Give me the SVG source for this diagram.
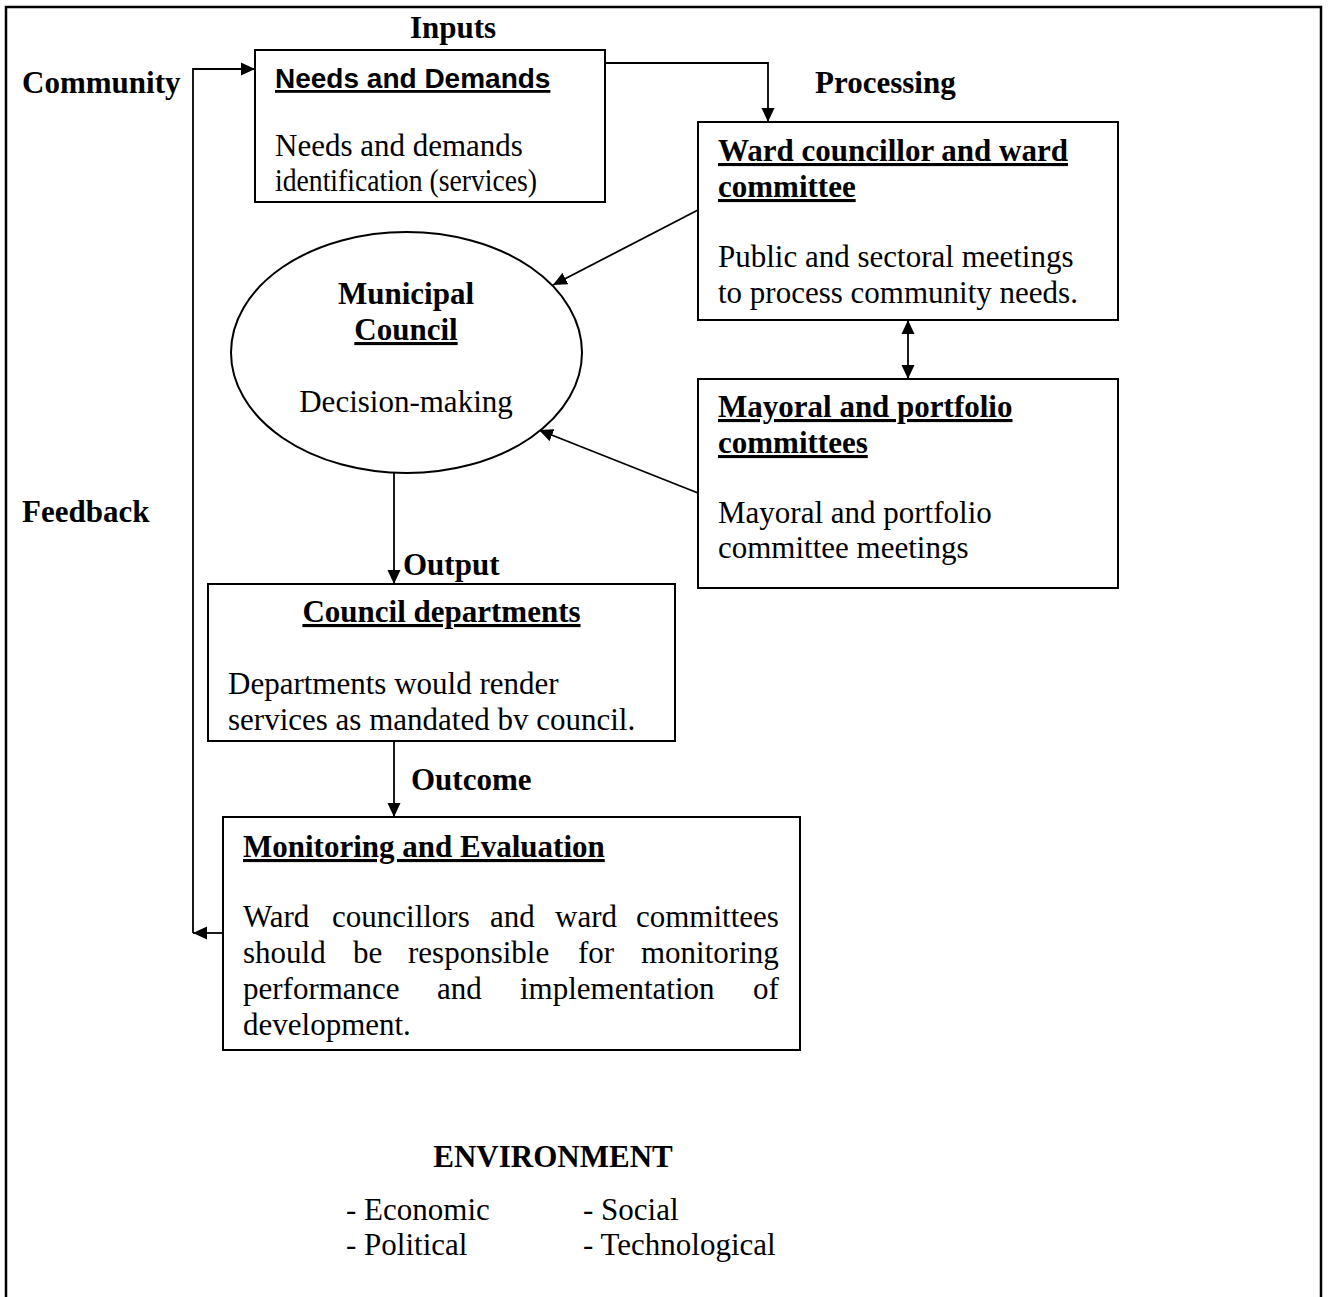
<svg xmlns="http://www.w3.org/2000/svg" width="1328" height="1297" viewBox="0 0 1328 1297">
<defs>
<style>
.t{font-family:"Liberation Serif","Times New Roman",serif;font-size:31px;fill:#000}
.b{font-weight:bold}
.u{text-decoration:underline}
.a{font-family:"Liberation Sans",Arial,sans-serif;font-size:28px;font-weight:bold;fill:#000}
.box{fill:#fff;stroke:#000;stroke-width:2}
.c{fill:none;stroke:#000;stroke-width:1.8}
</style>
<marker id="ah" viewBox="0 0 14 14" refX="14" refY="7" markerWidth="14" markerHeight="14" markerUnits="userSpaceOnUse" orient="auto-start-reverse">
<path d="M0,0.5 L14,7 L0,13.5 Z" fill="#000"/>
</marker>
</defs>
<rect width="1328" height="1297" fill="#fff"/>
<rect x="6" y="7" width="1315" height="1310" fill="none" stroke="#000" stroke-width="2.5"/>

<g id="labels">
<text class="t b" x="453" y="38" text-anchor="middle">Inputs</text>
<text class="t b" x="22" y="93">Community</text>
<text class="t b" x="815" y="93">Processing</text>
<text class="t b" x="22" y="522">Feedback</text>
<text class="t b" x="403" y="575">Output</text>
<text class="t b" x="411" y="790">Outcome</text>
</g>

<g id="connectors">
<path class="c" d="M605,63 H768 V122" marker-end="url(#ah)"/>
<path class="c" d="M698,210 L553,285" marker-end="url(#ah)"/>
<path class="c" d="M698,493 L539,430" marker-end="url(#ah)"/>
<path class="c" d="M908,320 V379" marker-start="url(#ah)" marker-end="url(#ah)"/>
<path class="c" d="M394,473 V584" marker-end="url(#ah)"/>
<path class="c" d="M394,741 V817" marker-end="url(#ah)"/>
<path class="c" d="M223,933 H193" marker-end="url(#ah)"/>
<path class="c" d="M193,933 V69 H255" marker-end="url(#ah)"/>
</g>

<g id="needs">
<rect class="box" x="255" y="50" width="350" height="152"/>
<text class="a u" x="275" y="88">Needs and Demands</text>
<text class="t" x="275" y="156">Needs and demands</text>
<text class="t" x="275" y="191" textLength="262" lengthAdjust="spacingAndGlyphs">identification (services)</text>
</g>

<g id="ward">
<rect class="box" x="698" y="122" width="420" height="198"/>
<text class="t b u" x="718" y="161">Ward councillor and ward</text>
<text class="t b u" x="718" y="197">committee</text>
<text class="t" x="718" y="267">Public and sectoral meetings</text>
<text class="t" x="718" y="303">to process community needs.</text>
</g>

<g id="council">
<ellipse cx="406.5" cy="352.5" rx="175.5" ry="120.5" fill="#fff" stroke="#000" stroke-width="2"/>
<text class="t b" x="406" y="304" text-anchor="middle">Municipal</text>
<text class="t b u" x="406" y="340" text-anchor="middle">Council</text>
<text class="t" x="406" y="412" text-anchor="middle">Decision-making</text>
</g>

<g id="mayoral">
<rect class="box" x="698" y="379" width="420" height="209"/>
<text class="t b u" x="718" y="417">Mayoral and portfolio</text>
<text class="t b u" x="718" y="453">committees</text>
<text class="t" x="718" y="523">Mayoral and portfolio</text>
<text class="t" x="718" y="558">committee meetings</text>
</g>

<g id="departments">
<rect class="box" x="208" y="584" width="467" height="157"/>
<text class="t b u" x="441.5" y="622" text-anchor="middle">Council departments</text>
<text class="t" x="228" y="694">Departments would render</text>
<text class="t" x="228" y="730">services as mandated bv council.</text>
</g>

<g id="monitoring">
<rect class="box" x="223" y="817" width="577" height="233"/>
<text class="t b u" x="243" y="857">Monitoring and Evaluation</text>
<text class="t" y="927"><tspan x="243">Ward</tspan><tspan x="332">councillors</tspan><tspan x="490">and</tspan><tspan x="555">ward</tspan><tspan x="636">committees</tspan></text>
<text class="t" y="963"><tspan x="243">should</tspan><tspan x="353">be</tspan><tspan x="408">responsible</tspan><tspan x="578">for</tspan><tspan x="641">monitoring</tspan></text>
<text class="t" y="999"><tspan x="243">performance</tspan><tspan x="437">and</tspan><tspan x="520">implementation</tspan><tspan x="753">of</tspan></text>
<text class="t" x="243" y="1035">development.</text>
</g>

<g id="environment">
<text class="t b" x="553" y="1167" text-anchor="middle">ENVIRONMENT</text>
<text class="t" x="346" y="1220">- Economic</text>
<text class="t" x="583" y="1220">- Social</text>
<text class="t" x="346" y="1255">- Political</text>
<text class="t" x="583" y="1255">- Technological</text>
</g>
</svg>
